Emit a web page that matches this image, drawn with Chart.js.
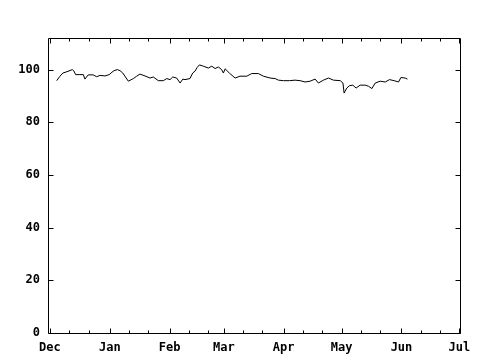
<!DOCTYPE html>
<html>
<head>
<meta charset="utf-8">
<script src="https://cdn.jsdelivr.net/npm/chart.js@4/dist/chart.umd.min.js"></script>
<style>
  html, body { margin: 0; padding: 0; background: #fff; }
  #wrap { width: 480px; height: 360px; }
</style>
</head>
<body>
<div id="wrap"><canvas id="chart" width="480" height="360"></canvas></div>
<script>
// Days since Dec 1 and the index value
const dayValues = [
  3.5, 5.2, 6.7, 8.8, 11.6, 12.4, 13.3, 15.5, 17.3, 18.1, 19.8, 22.4, 24.2, 25.9, 28.5, 30.7,
  32.1, 33.2, 34.9, 36.3, 37.7, 39.1, 40.6, 43.2, 44.9, 46.6, 49.2, 51.8, 53.5, 56.1, 58.7, 60.5,
  62.2, 63.6, 65.6, 67.4, 68.8, 69.9, 72.5, 73.9, 75.1, 76.2, 77.4, 79.4, 82.0, 83.8, 85.5, 87.2,
  88.9, 89.8, 90.7, 92.9, 94.3, 95.9, 98.4, 101.9, 104.5, 107.9, 110.5, 114.0, 116.6, 118.3, 120.9,
  124.0, 126.9, 129.5, 132.1, 134.7, 137.3, 139.0, 141.6, 144.2, 146.8, 150.3, 151.7, 152.3, 153.7,
  155.1, 156.8, 158.5, 160.6, 163.2, 164.9, 166.7, 168.4, 171.0, 173.6, 175.8, 178.2, 180.5, 181.7,
  183.9, 185.1
];
const indexValues = [
  95.8, 97.5, 98.7, 99.2, 100, 99.5, 98.1, 98.1, 98.1, 96.4, 98, 98, 97.3, 97.8, 97.6, 98.1,
  99, 99.6, 100, 99.6, 98.7, 97.2, 95.6, 96.6, 97.5, 98.3, 97.6, 96.8, 97.2, 95.8, 95.8, 96.6,
  96.2, 97.2, 96.8, 94.9, 96.4, 96.2, 96.6, 98.7, 99.4, 100.8, 101.8, 101.3, 100.6, 101.3, 100.4, 101,
  100, 98.7, 100.3, 98.7, 97.8, 96.8, 97.5, 97.5, 98.5, 98.5, 97.5, 96.8, 96.6, 96, 95.8,
  95.8, 96, 95.8, 95.3, 95.6, 96.4, 94.9, 96, 96.8, 96, 95.8, 94.9, 91.1, 93,
  93.9, 94.1, 93, 94.1, 94.1, 93.7, 92.8, 94.9, 95.6, 95.3, 96.2, 95.8, 95.3, 97,
  96.8, 96.4
];

// X axis: month starts (days since Dec 1) and labels
const monthDays = [0, 31, 62, 90, 121, 151, 182, 212];
const monthLabels = ['Dec', 'Jan', 'Feb', 'Mar', 'Apr', 'May', 'Jun', 'Jul'];
const yTicks = [0, 20, 40, 60, 80, 100];

const points = dayValues.map((d, i) => ({ x: d, y: indexValues[i] }));

// gnuplot-like frame with inward ticks on all four sides
const framePlugin = {
  id: 'frame',
  afterDraw(chart) {
    const { ctx, chartArea: a, scales } = chart;
    const sx = scales.x, sy = scales.y;
    ctx.save();
    ctx.strokeStyle = '#000';
    ctx.lineWidth = 1;
    ctx.beginPath();
    ctx.rect(Math.round(a.left) + 0.5, Math.round(a.top) + 0.5,
      Math.round(a.right - a.left), Math.round(a.bottom - a.top));
    const tick = (x1, y1, x2, y2) => { ctx.moveTo(x1, y1); ctx.lineTo(x2, y2); };
    const bottom = Math.round(a.bottom) + 0.5, top = Math.round(a.top) + 0.5;
    const left = Math.round(a.left) + 0.5, right = Math.round(a.right) + 0.5;
    monthDays.forEach(d => {
      const px = Math.round(sx.getPixelForValue(d)) + 0.5;
      tick(px, bottom, px, bottom - 5);
      tick(px, top, px, top + 5);
      [10, 20].forEach(off => {
        if (d + off > sx.max) return;
        const mx = Math.round(sx.getPixelForValue(d + off)) + 0.5;
        tick(mx, bottom, mx, bottom - 3);
        tick(mx, top, mx, top + 3);
      });
    });
    yTicks.forEach(v => {
      const py = Math.round(sy.getPixelForValue(v)) + 0.5;
      tick(left, py, left + 5, py);
      tick(right, py, right - 5, py);
    });
    ctx.stroke();
    ctx.restore();
  }
};

const tickFont = { family: '"DejaVu Sans Mono", monospace', size: 12, weight: 'bold' };

new Chart(document.getElementById('chart'), {
  type: 'line',
  data: {
    datasets: [{
      data: points,
      borderColor: '#000',
      borderWidth: 1,
      pointRadius: 0,
      tension: 0,
      fill: false
    }]
  },
  options: {
    responsive: false,
    animation: false,
    events: [],
    layout: { padding: { left: 0, right: 20, top: 38, bottom: 0 } },
    plugins: { legend: { display: false }, tooltip: { enabled: false } },
    scales: {
      x: {
        type: 'linear',
        min: -1,
        max: 212.3,
        afterBuildTicks: s => { s.ticks = monthDays.map(v => ({ value: v })); },
        afterFit: s => { s.height = 27; },
        grid: { display: false, drawTicks: false },
        border: { display: false },
        ticks: {
          color: '#000',
          font: tickFont,
          padding: 8,
          maxRotation: 0,
          autoSkip: false,
          callback: v => monthLabels[monthDays.indexOf(v)] ?? ''
        }
      },
      y: {
        min: 0,
        max: 112,
        afterBuildTicks: s => { s.ticks = yTicks.map(v => ({ value: v })); },
        afterFit: s => { s.width = 48; },
        grid: { display: false, drawTicks: false },
        border: { display: false },
        ticks: { color: '#000', font: tickFont, padding: 8 }
      }
    }
  },
  plugins: [framePlugin]
});
</script>
</body>
</html>
